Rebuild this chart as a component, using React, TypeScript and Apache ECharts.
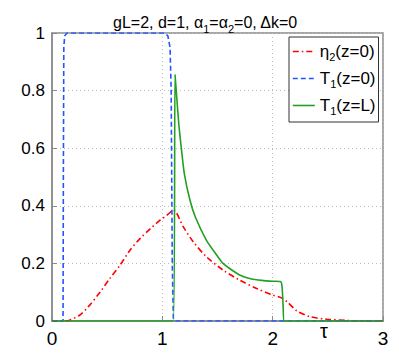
import React, { useEffect, useRef } from "react";
import * as echarts from "echarts";

const xTicks = [0, 1, 2, 3];
const yTicks = [0, 0.2, 0.4, 0.6, 0.8, 1];

const seriesNames = ["η2(z=0)", "T1(z=0)", "T1(z=L)"];
const legendRich = ["{n|η}{s|2}{n|(z=0)}", "{n|T}{s|1}{n|(z=0)}", "{n|T}{s|1}{n|(z=L)}"];

// η2(z=0) — red dash-dot
const etaTau = [0, 0.1, 0.16, 0.25, 0.33, 0.435, 0.525, 0.617, 0.707, 0.8, 0.89, 0.98, 1.05, 1.1, 1.19, 1.28, 1.4, 1.55, 1.7, 1.855, 2.0, 2.07, 2.13, 2.22, 2.34, 2.49, 2.67, 2.8, 3];
const etaVal = [0, 0, 0.003, 0.02, 0.05, 0.1, 0.148, 0.194, 0.246, 0.287, 0.32, 0.35, 0.37, 0.385, 0.327, 0.275, 0.223, 0.177, 0.142, 0.113, 0.09, 0.082, 0.067, 0.035, 0.015, 0.006, 0.002, 0, 0];

// T1(z=0) — blue dashed
const t0Tau = [0, 0.1, 0.103, 0.107, 0.115, 0.135, 1.02, 1.05, 1.07, 1.08, 1.09, 1.1, 1.115, 3];
const t0Val = [0, 0, 0.5, 0.95, 0.99, 1, 1, 0.99, 0.95, 0.8, 0.2, 0.01, 0, 0];

// T1(z=L) — green solid
const tLTau = [0, 1.1, 1.115, 1.13, 1.15, 1.175, 1.2, 1.25, 1.3, 1.4, 1.5, 1.55, 1.6, 1.7, 1.8, 1.9, 2.0, 2.07, 2.085, 2.095, 2.105, 3];
const tLVal = [0, 0, 0.855, 0.78, 0.68, 0.59, 0.51, 0.42, 0.36, 0.28, 0.225, 0.2, 0.185, 0.16, 0.147, 0.141, 0.138, 0.137, 0.12, 0.05, 0, 0];

const FONT = "Liberation Sans";
const RED = "#ff0000";
const BLUE = "#2255ff";
const GREEN = "#22a022";
const RED_DASH = [6, 3, 1.5, 3];
const BLUE_DASH = [5, 3];

const zip = (a: number[], b: number[]) => a.map((x, i) => [x, b[i]]);

export default function App() {
  const ref = useRef<HTMLDivElement>(null);
  useEffect(() => {
    if (!ref.current) return;
    const chart = echarts.init(ref.current, undefined, { renderer: "svg" });
    const gridColor = "#8a8a8a";
    chart.setOption({
      animation: false,
      backgroundColor: "#fff",
      title: {
        text: "{n|gL=2, d=1, α}{s|1}{n|=α}{s|2}{n|=0, Δk=0}",
        left: 108,
        top: 5,
        textStyle: {
          fontFamily: FONT,
          fontWeight: "normal",
          rich: {
            n: { fontFamily: FONT, fontSize: 16, fontWeight: "normal", color: "#000" },
            s: { fontFamily: FONT, fontSize: 11, fontWeight: "normal", color: "#000", verticalAlign: "bottom", padding: [13, 0, 0, 0] },
          },
        },
      },
      grid: {
        left: 52,
        right: 16,
        top: 33,
        bottom: 39,
        show: true,
        borderColor: gridColor,
        borderWidth: 1.5,
        backgroundColor: "#fff",
      },
      legend: {
        orient: "vertical",
        left: 289,
        top: 37,
        itemWidth: 22,
        itemHeight: 14,
        itemGap: 8,
        padding: [6, 3, 6, 3],
        borderColor: "#333",
        borderWidth: 1,
        backgroundColor: "#fff",
        data: [
          { name: seriesNames[0], lineStyle: { color: RED, width: 1.6, type: RED_DASH } },
          { name: seriesNames[1], lineStyle: { color: BLUE, width: 1.6, type: BLUE_DASH } },
          { name: seriesNames[2], lineStyle: { color: GREEN, width: 1.6, type: "solid" } },
        ],
        itemStyle: { color: "transparent", borderColor: "transparent", borderWidth: 0, opacity: 0 },
        formatter: (name: string) => legendRich[seriesNames.indexOf(name)],
        textStyle: {
          fontFamily: FONT,
          rich: {
            n: { fontFamily: FONT, fontSize: 17, color: "#000" },
            s: { fontFamily: FONT, fontSize: 11, color: "#000", verticalAlign: "bottom", padding: [10, 0, 0, 0] },
          },
        },
      },
      xAxis: {
        type: "value",
        min: 0,
        max: 3,
        interval: 1,
        axisLine: { show: true, lineStyle: { color: gridColor, width: 1.5 } },
        axisTick: { show: true, inside: true, length: 5, lineStyle: { color: gridColor } },
        axisLabel: { fontFamily: FONT, fontSize: 19, color: "#000", margin: 8, showMinLabel: true, showMaxLabel: true },
        splitLine: { show: true, lineStyle: { type: [1, 3], color: "#bbb", width: 1 } },
      },
      yAxis: {
        type: "value",
        min: 0,
        max: 1,
        interval: 0.2,
        axisLine: { show: true, lineStyle: { color: gridColor, width: 1.5 } },
        axisTick: { show: true, inside: true, length: 5, lineStyle: { color: gridColor } },
        axisLabel: { fontFamily: FONT, fontSize: 17, color: "#000", margin: 7 },
        splitLine: { show: true, lineStyle: { type: [1, 3], color: "#bbb", width: 1 } },
      },
      graphic: [
        {
          type: "text",
          left: 320,
          top: 321,
          style: { text: "τ", fontFamily: FONT, fontSize: 20, fill: "#000" },
        },
      ],
      series: [
        {
          name: seriesNames[0],
          type: "line",
          data: zip(etaTau, etaVal),
          symbol: "circle",
          showSymbol: false,
          smooth: 0.3,
          color: RED,
          lineStyle: { color: RED, width: 1.6, type: RED_DASH },
          z: 3,
        },
        {
          name: seriesNames[1],
          type: "line",
          data: zip(t0Tau, t0Val),
          symbol: "circle",
          showSymbol: false,
          color: BLUE,
          lineStyle: { color: BLUE, width: 1.6, type: BLUE_DASH },
          z: 4,
        },
        {
          name: seriesNames[2],
          type: "line",
          data: zip(tLTau, tLVal),
          symbol: "circle",
          showSymbol: false,
          smooth: 0.2,
          color: GREEN,
          lineStyle: { color: GREEN, width: 1.6, type: "solid" },
          z: 5,
        },
      ],
    });
    return () => chart.dispose();
  }, []);
  return <div ref={ref} style={{ width: 399, height: 360, position: "absolute", left: 0, top: 0 }} />;
}
